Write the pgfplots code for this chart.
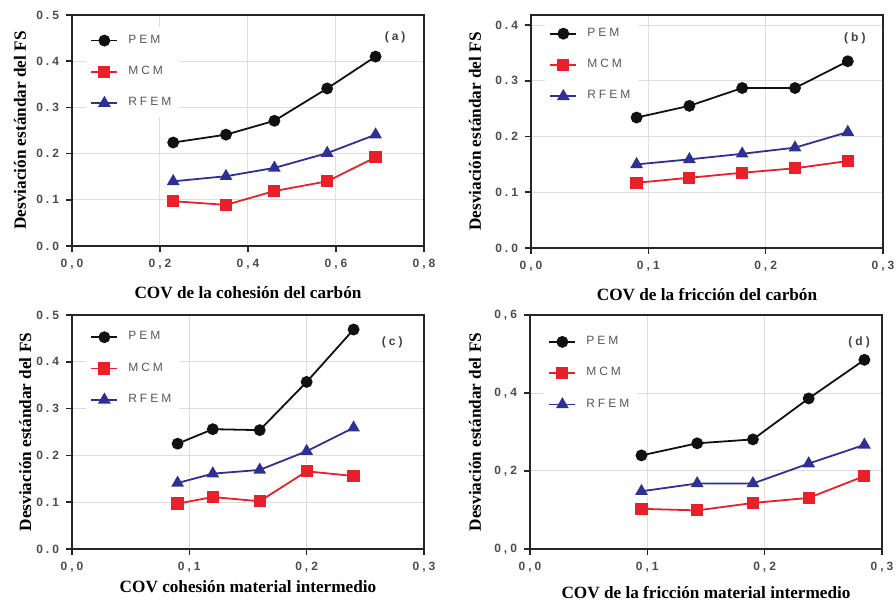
\documentclass[border=0pt]{standalone}
\usepackage{fontspec}
\setmainfont{Liberation Serif}
\newfontfamily\tickfont[LetterSpace=25]{Liberation Sans}
\usepackage{pgfplots}
\pgfplotsset{compat=1.18}
\definecolor{pem}{HTML}{111111}
\definecolor{mcm}{HTML}{E8202A}
\definecolor{rfem}{HTML}{2E3192}
\pgfplotsset{
  panel/.style={
    scale only axis, width=176pt, height=116pt, anchor=south west,
    axis line style={black!85, line width=1pt},
    tick style={black!85, line width=0.8pt}, tick align=outside, major tick length=3pt,
    xtick pos=bottom, ytick pos=left,
    grid=major, grid style={black!13, line width=0.5pt},
    ticklabel style={font=\tickfont\bfseries\fontsize{6}{7}\selectfont, text=black!70},
    /pgf/number format/assume math mode=true,
    xticklabel style={/pgf/number format/.cd, fixed, fixed zerofill, precision=1, use comma},
    yticklabel style={/pgf/number format/.cd, fixed, fixed zerofill, precision=1},
    label style={font=\bfseries\fontsize{8.6}{10}\selectfont},
    ylabel={Desviación estándar del FS},
    legend cell align=left,
    legend style={draw=none, fill=white, anchor=north west, inner sep=2pt,
      font=\tickfont\fontsize{6}{7}\selectfont, row sep=6pt,
      nodes={text=black!65},
      /tikz/every odd column/.append style={column sep=3pt}},
    legend image code/.code={%
      \draw[mark=none] (0pt,0pt) -- (13pt,0pt);
      \draw[only marks] plot coordinates {(6.5pt,0pt)};},
  },
  pemline/.style={pem, line width=0.9pt, mark=*, mark size=2.5pt, mark options={fill=pem, draw=pem}},
  mcmline/.style={mcm, line width=0.9pt, mark=square*, mark size=2.6pt, mark options={fill=mcm, draw=mcm}},
  rfemline/.style={rfem, line width=0.9pt, mark=triangle*, mark size=2.8pt, mark options={fill=rfem, draw=rfem}},
}
\newcommand{\tag}[1]{{\tickfont\bfseries\fontsize{6}{7}\selectfont #1}}
\begin{document}
\begin{tikzpicture}
\useasboundingbox (0,0) rectangle (448pt,-304pt);
% (a)
\begin{axis}[panel, at={(36pt,-123pt)}, height=115.5pt,
  xmin=0, xmax=0.8, xtick={0,0.2,0.4,0.6,0.8},
  ymin=0, ymax=0.5, ytick={0,0.1,0.2,0.3,0.4,0.5},
  xlabel={COV de la cohesión del carbón},
  xlabel style={at={(axis description cs:0.5,-0.2)}, anchor=center},
  ylabel style={at={(axis description cs:-0.148,0.5)}, anchor=center},
  legend style={at={(axis description cs:0.04,0.95)}}]
\addplot[pemline] coordinates {(0.23,0.224) (0.35,0.241) (0.46,0.271) (0.58,0.341) (0.69,0.410)};
\addlegendentry{PEM}
\addplot[mcmline] coordinates {(0.23,0.097) (0.35,0.089) (0.46,0.119) (0.58,0.140) (0.69,0.192)};
\addlegendentry{MCM}
\addplot[rfemline] coordinates {(0.23,0.140) (0.35,0.151) (0.46,0.169) (0.58,0.201) (0.69,0.241)};
\addlegendentry{RFEM}
\node[text=black!75] at (rel axis cs:0.918,0.905) {\tag{(a)}};
\end{axis}
% (b)
\begin{axis}[panel, at={(265.5pt,-124pt)}, height=116.5pt,
  xmin=0, xmax=0.3, xtick={0,0.1,0.2,0.3},
  ymin=0, ymax=0.418, ytick={0,0.1,0.2,0.3,0.4},
  xlabel={COV de la fricción del carbón},
  xlabel style={at={(axis description cs:0.5,-0.2)}, anchor=center},
  ylabel style={at={(axis description cs:-0.159,0.5)}, anchor=center},
  legend style={at={(axis description cs:0.04,0.98)}}]
\addplot[pemline] coordinates {(0.09,0.234) (0.135,0.255) (0.18,0.287) (0.225,0.287) (0.27,0.335)};
\addlegendentry{PEM}
\addplot[mcmline] coordinates {(0.09,0.117) (0.135,0.126) (0.18,0.135) (0.225,0.143) (0.27,0.156)};
\addlegendentry{MCM}
\addplot[rfemline] coordinates {(0.09,0.150) (0.135,0.159) (0.18,0.169) (0.225,0.180) (0.27,0.208)};
\addlegendentry{RFEM}
\node[text=black!75] at (rel axis cs:0.92,0.90) {\tag{(b)}};
\end{axis}
% (c)
\begin{axis}[panel, at={(36pt,-274.5pt)}, height=117pt,
  xmin=0, xmax=0.3, xtick={0,0.1,0.2,0.3},
  ymin=0, ymax=0.5, ytick={0,0.1,0.2,0.3,0.4,0.5},
  xlabel={COV cohesión material intermedio},
  xlabel style={at={(axis description cs:0.5,-0.163)}, anchor=center},
  ylabel style={at={(axis description cs:-0.133,0.5)}, anchor=center},
  legend style={at={(axis description cs:0.04,0.965)}}]
\addplot[pemline] coordinates {(0.09,0.225) (0.12,0.256) (0.16,0.254) (0.20,0.357) (0.24,0.469)};
\addlegendentry{PEM}
\addplot[mcmline] coordinates {(0.09,0.097) (0.12,0.111) (0.16,0.102) (0.20,0.166) (0.24,0.156)};
\addlegendentry{MCM}
\addplot[rfemline] coordinates {(0.09,0.141) (0.12,0.161) (0.16,0.169) (0.20,0.209) (0.24,0.259)};
\addlegendentry{RFEM}
\node[text=black!75] at (rel axis cs:0.91,0.885) {\tag{(c)}};
\end{axis}
% (d)
\begin{axis}[panel, at={(265pt,-274.5pt)}, height=117pt,
  xmin=0, xmax=0.3, xtick={0,0.1,0.2,0.3},
  ymin=0, ymax=0.6, ytick={0,0.2,0.4,0.6},
  yticklabel style={/pgf/number format/use comma},
  xlabel={COV de la fricción material intermedio},
  xlabel style={at={(axis description cs:0.5,-0.188)}, anchor=center},
  ylabel style={at={(axis description cs:-0.156,0.5)}, anchor=center},
  legend style={at={(axis description cs:0.04,0.945)}}]
\addplot[pemline] coordinates {(0.095,0.240) (0.1425,0.271) (0.19,0.281) (0.2375,0.386) (0.285,0.485)};
\addlegendentry{PEM}
\addplot[mcmline] coordinates {(0.095,0.103) (0.1425,0.099) (0.19,0.118) (0.2375,0.131) (0.285,0.187)};
\addlegendentry{MCM}
\addplot[rfemline] coordinates {(0.095,0.148) (0.1425,0.168) (0.19,0.168) (0.2375,0.219) (0.285,0.267)};
\addlegendentry{RFEM}
\node[text=black!75] at (rel axis cs:0.935,0.885) {\tag{(d)}};
\end{axis}
\end{tikzpicture}
\end{document}
